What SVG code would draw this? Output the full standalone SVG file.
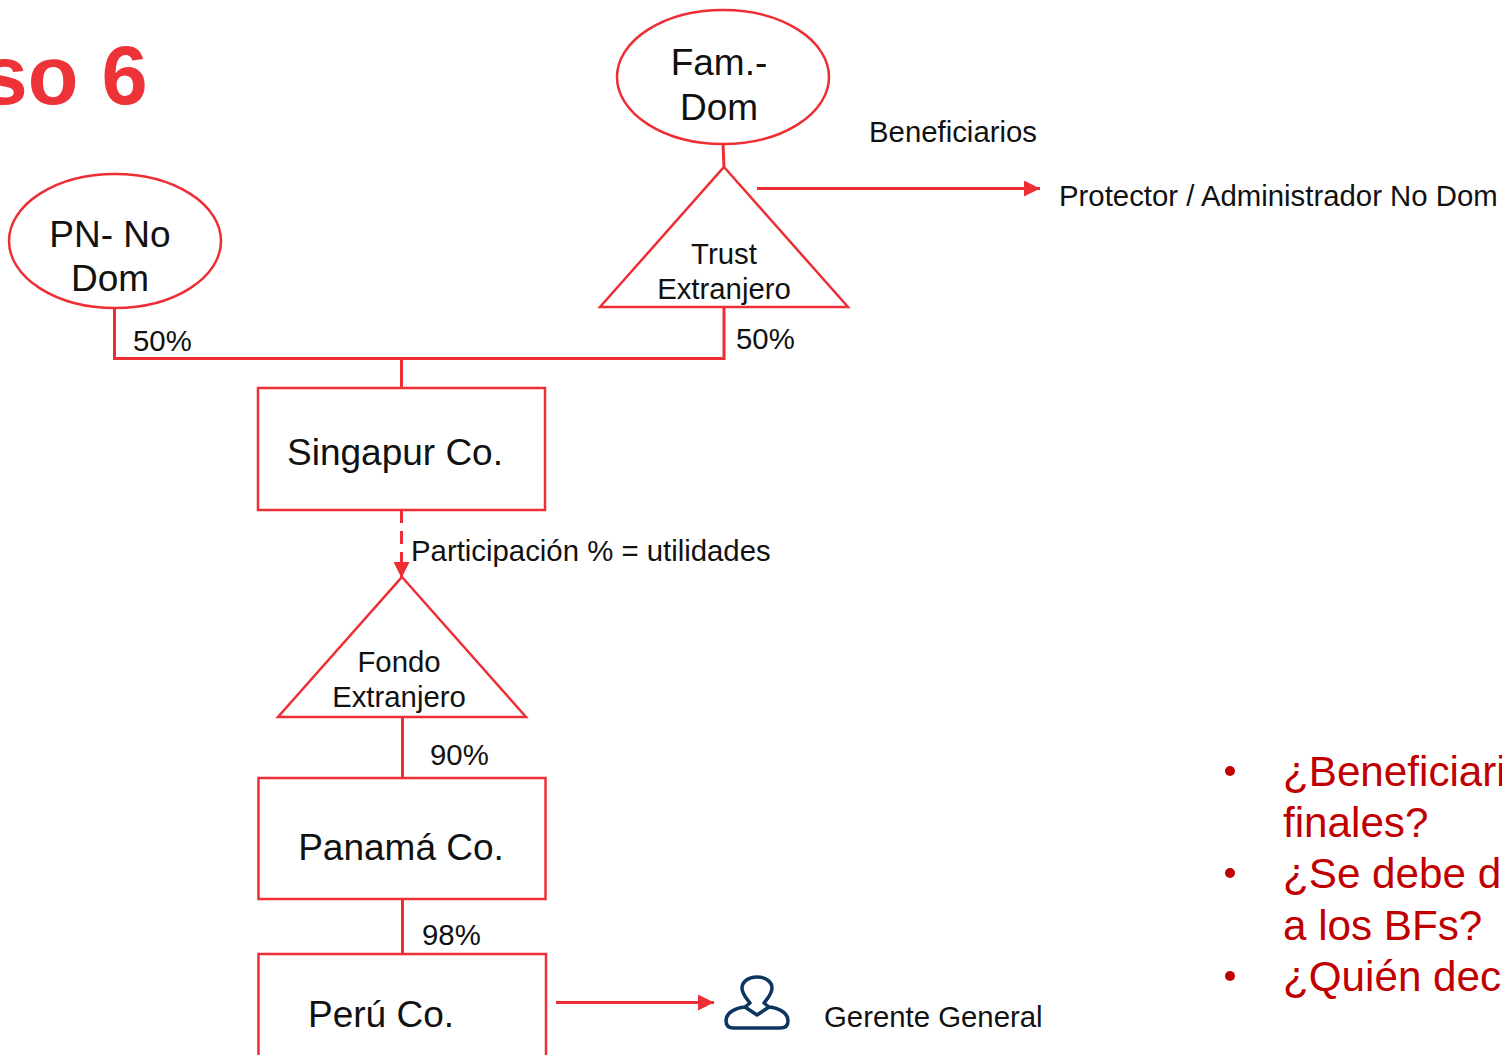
<svg xmlns="http://www.w3.org/2000/svg" width="1502" height="1055" viewBox="0 0 1502 1055">
<style>
text{font-family:"Liberation Sans",Arial,sans-serif;fill:#111}
.shape{fill:#fff;stroke:#ee2e35;stroke-width:2.5}
.line{fill:none;stroke:#ee2e35;stroke-width:3}
.big{font-size:37px;text-anchor:middle}
.mid{font-size:29.35px}
.ctr{text-anchor:middle}
.q{font-size:42.2px;fill:#c00000}
</style>
<defs><marker id="arrow" markerUnits="userSpaceOnUse" markerWidth="18" markerHeight="16" refX="16" refY="8" orient="auto"><path d="M0 0L16 8L0 16Z" fill="#ee2e35"/></marker></defs>
<rect width="1502" height="1055" fill="#fff"/>
<text x="-18.500" y="104" font-size="83" font-weight="700" style="fill:#ee3338">so 6</text>
<g id="connectors">
<path class="line" d="M723 143L724 168"/>
<path class="line" d="M114.500 307V358.500H724V307"/>
<path class="line" d="M401.500 358V388"/>
<path class="line" d="M401.500 510V578" stroke-dasharray="13 8" marker-end="url(#arrow)"/>
<path class="line" d="M402.500 717V778"/>
<path class="line" d="M402.500 899V954"/>
<path class="line" d="M757 188.500H1040" marker-end="url(#arrow)"/>
<path class="line" d="M556 1002.500H714" marker-end="url(#arrow)"/>
</g>
<g id="fam-dom"><ellipse class="shape" cx="723" cy="77" rx="106" ry="67"/><text class="big" x="719" y="75">Fam.-</text><text class="big" x="719" y="120">Dom</text></g>
<g id="pn-no-dom"><ellipse class="shape" cx="115" cy="241" rx="106" ry="67"/><text class="big" x="110" y="247">PN- No</text><text class="big" x="110" y="291">Dom</text></g>
<g id="trust"><path class="shape" d="M724 167L848 307H600Z"/><text class="mid ctr" x="724" y="264">Trust</text><text class="mid ctr" x="724" y="299">Extranjero</text></g>
<g id="singapur"><rect class="shape" x="258" y="388" width="287" height="122"/><text class="big" x="395" y="465">Singapur Co.</text></g>
<g id="fondo"><path class="shape" d="M402 577L526 717H278Z"/><text class="mid ctr" x="399" y="672">Fondo</text><text class="mid ctr" x="399" y="707">Extranjero</text></g>
<g id="panama"><rect class="shape" x="258.500" y="778" width="287" height="121"/><text class="big" x="401" y="860">Panamá Co.</text></g>
<g id="peru"><path class="shape" d="M258.500 1056V954H546V1056"/><text class="big" x="381" y="1027">Perú Co.</text></g>
<g id="gerente"><path d="M757 977C766 977 772 982 772 988C772 994 768 998 764 1003L769 1007C778 1008 788 1012 788 1021C788 1026 785 1028 780 1028H734C729 1028 726 1026 726 1021C726 1012 736 1008 745 1007L750 1003C746 998 742 994 742 988C742 982 748 977 757 977ZM745 1007L757 1015L769 1007" fill="none" stroke="#0c3560" stroke-width="3.500" stroke-linejoin="round"/><text class="mid" x="824" y="1027">Gerente General</text></g>
<g id="labels">
<text class="mid" x="869" y="142">Beneficiarios</text>
<text class="mid" x="1059" y="206">Protector / Administrador No Dom</text>
<text class="mid" x="133" y="351">50%</text>
<text class="mid" x="736" y="349">50%</text>
<text class="mid" x="411" y="561">Participación % = utilidades</text>
<text class="mid" x="430" y="765">90%</text>
<text class="mid" x="422" y="945">98%</text>
</g>
<g id="questions">
<circle cx="1230" cy="771" r="5" fill="#c00000"/><circle cx="1230" cy="873" r="5" fill="#c00000"/><circle cx="1230" cy="976" r="5" fill="#c00000"/>
<text class="q" x="1283" y="786">¿Beneficiari</text>
<text class="q" x="1283" y="837">finales?</text>
<text class="q" x="1283" y="888">¿Se debe d</text>
<text class="q" x="1283" y="940">a los BFs?</text>
<text class="q" x="1283" y="991">¿Quién dec</text>
</g>
</svg>
